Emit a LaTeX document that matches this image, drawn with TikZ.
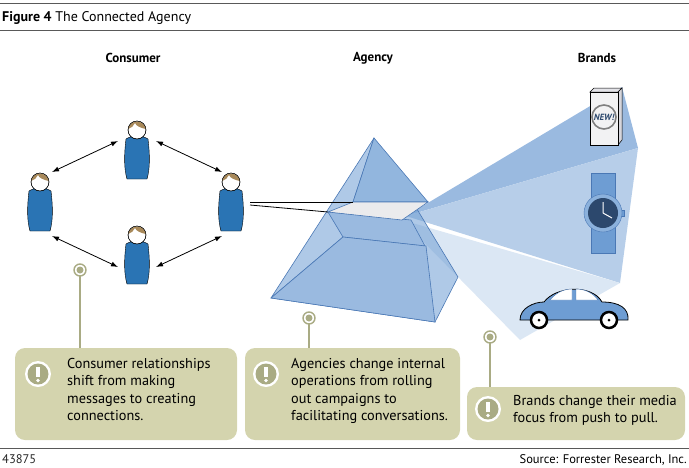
\documentclass[tikz,border=0pt]{standalone}
\usepackage{fontspec}
\setmainfont{PT Sans}
\usetikzlibrary{arrows.meta}
\usetikzlibrary{calc}
\definecolor{pblue}{HTML}{2A74B4}
\definecolor{hair}{HTML}{A8895A}
\definecolor{note}{HTML}{D4D4AE}
\definecolor{pincol}{HTML}{A9AB84}
\definecolor{pyr}{HTML}{6E9DD3}
\definecolor{pyredge}{HTML}{4A78B5}
\tikzstyle{head}=[font=\bfseries\fontsize{13}{15}\selectfont]
\tikzstyle{link}=[line width=.8pt,{Latex[length=7pt,width=5pt]}-{Latex[length=7pt,width=5pt]}]
\tikzstyle{notebox}=[fill=note,rounded corners=10pt]
\tikzstyle{notetext}=[anchor=north west,align=left,font=\fontsize{14.3}{17.5}\selectfont,inner sep=0pt]
\tikzstyle{stem}=[draw=pincol,line width=1.2pt]
\tikzstyle{face}=[fill=pyr,fill opacity=.55,draw=pyredge,line width=.6pt,line join=round]
\tikzset{person/.pic={
  \draw[fill=pblue,line width=.4pt] (-11,4) .. controls (-13,20) and (-13,34) .. (-10,44) -- (10,44) .. controls (13,34) and (13,20) .. (11,4) .. controls (5,0) and (-5,0) .. cycle;
  \draw[fill=white,line width=.4pt] (0,-5) circle (9);
  \fill[hair] (-8.9,-6) .. controls (-7,-16) and (7,-16) .. (8.9,-6) .. controls (4,-7) and (-1,-9) .. (-2,-12) .. controls (-3,-9) and (-6,-7) .. cycle;
  \draw[line width=.4pt] (0,-5) circle (9);}}
\tikzset{alert/.pic={
  \fill[white] (0,0) circle (13);
  \fill[pincol] (0,0) circle (10.5);
  \fill[white] (-1.6,-7) rectangle (1.6,3);
  \fill[white] (0,6.5) circle (1.8);}}
\tikzset{pinhead/.pic={
  \draw[draw=pincol,fill=white,line width=1.4pt] (0,0) circle (6);
  \fill[pincol] (0,0) circle (3.5);}}
\begin{document}
\begin{tikzpicture}[x=1pt,y=-1pt]
\useasboundingbox (0,0) rectangle (689,467);
% header
\draw[gray!70!black,line width=1pt] (0,3) -- (689,3);
\draw[gray!70!black,line width=.6pt] (0,30) -- (689,30);
\node[anchor=base west,inner sep=0pt,font=\fontsize{14}{16}\selectfont] (title) at (2,21) {\textbf{Figure 4} The Connected Agency};
\node[head] (hcons) at (133,58) {Consumer};
\node[head] (hagen) at (373,58) {Agency};
\node[head] (hbra) at (597,58) {Brands};
% consumers
\coordinate (ctop) at (137,135);
\coordinate (cleft) at (40,187);
\coordinate (cright) at (231,187);
\coordinate (cbot) at (137,240);
\foreach \p in {ctop,cleft,cright,cbot} \pic at (\p) {person};
\draw[link] (52,172) -- (118,141);
\draw[link] (156,141) -- (222,172);
\draw[link] (52,236) -- (118,267);
\draw[link] (222,236) -- (156,267);
% beams
\fill[pyr!70] (406,216) -- (622,87) -- (638,148) -- cycle;
\fill[pyr!50] (406,216) -- (638,148) -- (620,283) -- cycle;
\fill[pyr!25] (402,220) -- (620,283) -- (520,340) -- cycle;
% pyramid
\coordinate (apex) at (374,138);
\coordinate (bl) at (271,298);
\coordinate (bf) at (435,322);
\coordinate (br) at (458,277);
\fill[face] (apex) -- (bl) -- (bf) -- cycle;
\fill[face] (apex) -- (bf) -- (br) -- cycle;
\draw[pyredge,line width=.6pt] (apex) -- (353,202) -- (343,237) -- (bl);
\fill[pyr!75,draw=pyredge,line width=.6pt] (apex) -- (353,202) -- (428,202) -- cycle;
\fill[pyr!70,draw=pyredge,line width=.6pt] (343,237) -- (425,246) -- (411,220) -- (328,212) -- cycle;
\fill[pyr!70,draw=pyredge,line width=.6pt] (343,237) -- (426,246) -- (bf) -- (bl) -- cycle;
\fill[blue!5!gray!15,draw=pyredge,line width=.6pt] (353,202) -- (428,202) -- (402,220) -- (328,212) -- cycle;
\draw[line width=.8pt] (250,202) -- (353,202);
\draw[line width=.8pt] (250,205) -- (328,212);
% brands
\begin{scope}[shift={(604,117)}]
  \draw[fill=blue!8!gray!20,line width=.5pt] (-14,-25) -- (-10,-29) -- (18,-29) -- (14,-25) -- cycle;
  \draw[fill=blue!8!gray!30,line width=.5pt] (14,-25) -- (18,-29) -- (18,23) -- (14,28) -- cycle;
  \draw[fill=blue!5!gray!10,line width=.5pt] (-14,-25) rectangle (14,28);
  \draw[gray,line width=1.6pt] (0,0) circle (12);
  \node[font=\bfseries\itshape\small,text=pyredge!60!black] (new) at (0,0) {NEW!};
\end{scope}
\begin{scope}[shift={(603,213)}]
  \draw[fill=pyr,draw=pyredge] (-12,-40) rectangle (12,40);
  \draw[fill=pyr,draw=pyredge] (16,-3) rectangle (21,3);
  \draw[fill=pyr!80,draw=pyredge] (0,0) circle (19);
  \fill[pyredge!60!black] (0,0) circle (15);
  \draw[white,line width=1pt] (0,0) -- (0,-11) (0,0) -- (9,5);
\end{scope}
\begin{scope}[shift={(574,308)}]
  \draw[fill=pyr,line width=.8pt] (-54,12) .. controls (-54,0) and (-40,-6) .. (-30,-6) .. controls (-18,-22) and (18,-24) .. (28,-6) .. controls (45,-6) and (55,0) .. (54,12) -- cycle;
  \draw[fill=white,draw=pyredge] (-24,-8) .. controls (-16,-18) and (-6,-19) .. (-2,-19) -- (-2,-8) -- cycle;
  \draw[fill=white,draw=pyredge] (2,-8) -- (2,-19) .. controls (12,-19) and (20,-14) .. (24,-8) -- cycle;
  \foreach \w in {-35,35} {\draw[fill=white,line width=2.5pt] (\w,12) circle (8); \fill (\w,12) circle (1.5);}
\end{scope}
% notes
\draw[stem] (80,276) -- (80,348);
\draw[stem] (309,324) -- (309,348);
\draw[stem] (490,343) -- (490,387);
\pic at (80,270) {pinhead};
\pic at (309,318) {pinhead};
\pic at (490,337) {pinhead};
\fill[notebox] (15,348) rectangle (237,440);
\fill[notebox] (245,348) rectangle (460,440);
\fill[notebox] (467,387) rectangle (685,440);
\pic at (38,374) {alert};
\pic at (266,374) {alert};
\pic at (488,409) {alert};
\node[notetext] (n1) at (67,358) {Consumer relationships\\shift from making\\messages to creating\\connections.};
\node[notetext] (n2) at (291,358) {Agencies change internal\\operations from rolling\\out campaigns to\\facilitating conversations.};
\node[notetext] (n3) at (513,395) {Brands change their media\\focus from push to pull.};
% footer
\draw[gray!70!black,line width=.8pt] (0,448) -- (689,448);
\node[anchor=base west,font=\fontsize{12.5}{14}\selectfont,inner sep=0pt,text=gray!30!black] (num) at (2,463) {43875};
\node[anchor=base east,font=\fontsize{12.5}{14}\selectfont,inner sep=0pt] (src) at (687,463) {Source: Forrester Research, Inc.};
\end{tikzpicture}
\end{document}
